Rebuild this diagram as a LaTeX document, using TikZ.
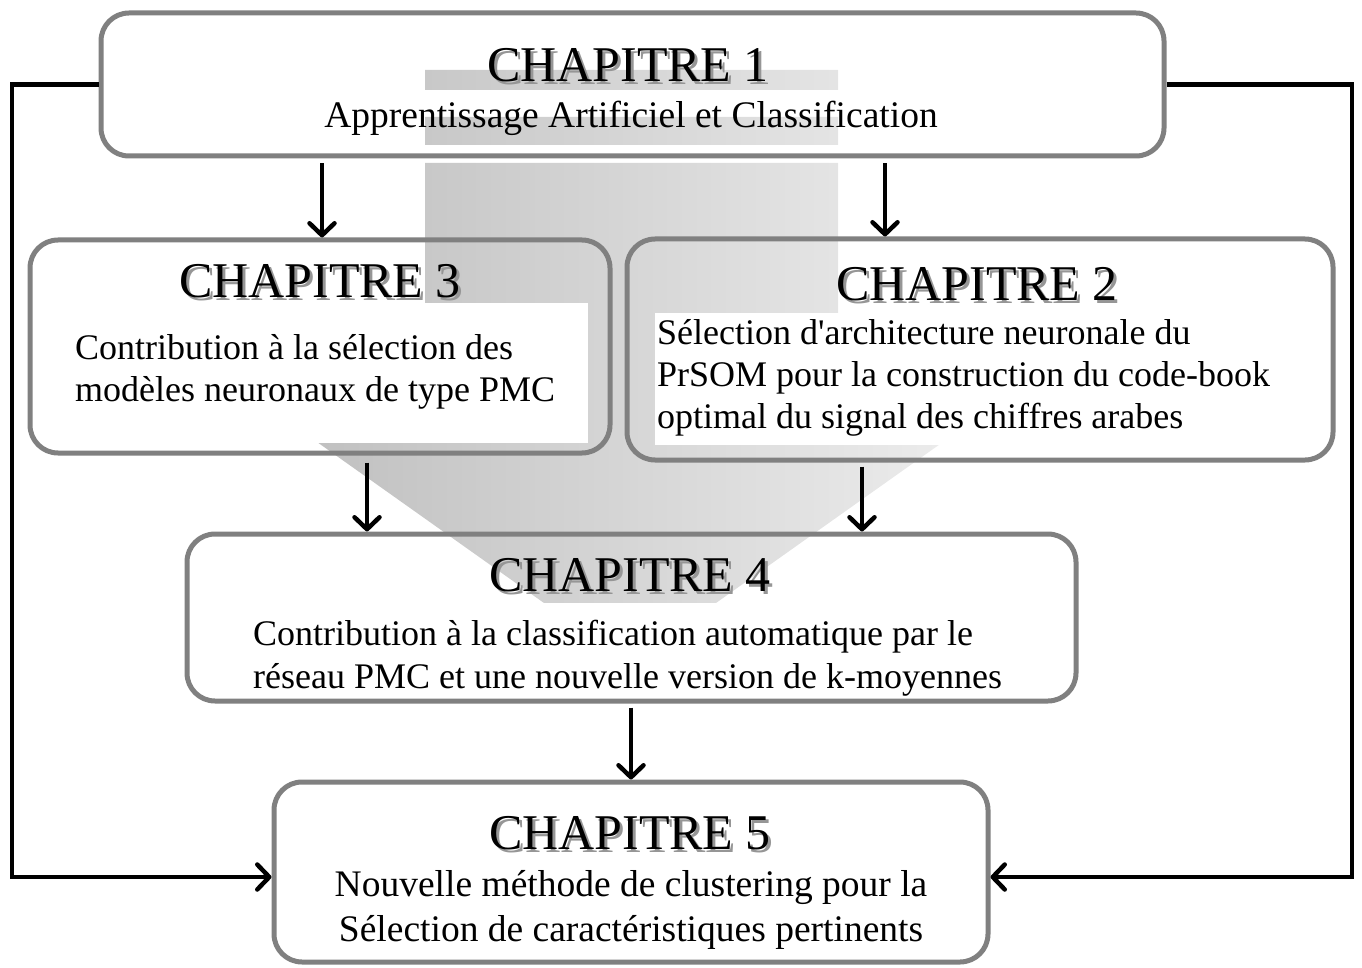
\documentclass[tikz,border=0pt]{standalone}
\usepackage{fontspec}
\setmainfont{Liberation Serif}[Ligatures=TeXOff]
\usetikzlibrary{arrows.meta}

\definecolor{frame}{RGB}{128,128,128}
\definecolor{shadeL}{RGB}{181,181,181}
\definecolor{shadeR}{RGB}{247,247,247}
\definecolor{ttlgray}{RGB}{150,150,150}

% title with a soft grey drop shadow
\newcommand{\chtitle}[1]{\rlap{\kern3pt\raisebox{-3pt}{\textcolor{ttlgray}{#1}}}#1}

\tikzset{
  chbox/.style={rectangle, draw=frame, line width=5pt, rounded corners=28pt, inner sep=0pt},
  backing/.style={rectangle, fill=white, draw=none, inner sep=0pt},
  ttl/.style={anchor=base, inner sep=0pt, font=\fontsize{50}{50}\selectfont},
  txt/.style={anchor=base west, inner sep=0pt, font=\fontsize{36}{42}\selectfont},
  txtc/.style={anchor=base, inner sep=0pt, font=\fontsize{37.5}{42}\selectfont},
  conn/.style={line width=4.5pt, -{Straight Barb[length=12pt,width=25pt,round]}},
}

\begin{document}
\begin{tikzpicture}[x=1pt,y=-1pt]
\useasboundingbox (0,0) rectangle (1362,968);

% striped block arrow running down behind the chapters
\shade[left color=shadeL, right color=shadeR]
  (425,70) rectangle (838,90)
  (425,117) rectangle (838,145)
  (425,163) -- (838,163) -- (838,320) -- (1115,320) -- (630,664)
  -- (145,320) -- (425,320) -- cycle;

% white panels behind the descriptions
\node[backing, minimum width=528, minimum height=140] (bg3) at (324,373) {};
\node[backing, minimum width=625, minimum height=132] (bg2) at (967.5,379) {};
\node[backing, minimum width=780, minimum height=94] (bg4) at (630,650) {};

% chapter frames
\node[chbox, minimum width=1063, minimum height=143] (box1) at (632.5,84.5) {};
\node[chbox, minimum width=580, minimum height=213] (box3) at (320,346.5) {};
\node[chbox, minimum width=706, minimum height=221] (box2) at (980,349.5) {};
\node[chbox, minimum width=889, minimum height=167] (box4) at (631.5,617.5) {};
\node[chbox, minimum width=714, minimum height=180] (box5) at (631,872) {};

% titles
\node[ttl] (t1) at (628,82) {\chtitle{CHAPITRE 1}};
\node[ttl] (t3) at (320,298) {\chtitle{CHAPITRE 3}};
\node[ttl] (t2) at (977,300) {\chtitle{CHAPITRE 2}};
\node[ttl] (t4) at (630,591) {\chtitle{CHAPITRE 4}};
\node[ttl] (t5) at (630,849) {\chtitle{CHAPITRE 5}};

% descriptions
\node[txtc] (d1) at (631,128) {Apprentissage Artificiel et Classification};
\node[txt] (d3a) at (75,359) {Contribution à la sélection des};
\node[txt] (d3b) at (75,401) {modèles neuronaux de type PMC};
\node[txt] (d2a) at (657,344) {Sélection d'architecture neuronale du};
\node[txt] (d2b) at (657,386) {PrSOM pour la construction du code-book};
\node[txt] (d2c) at (657,428) {optimal du signal des chiffres arabes};
\node[txt] (d4a) at (253,645) {Contribution à la classification automatique par le};
\node[txt] (d4b) at (253,688) {réseau PMC et une nouvelle version de k-moyennes};
\node[txtc] (d5a) at (631,896) {Nouvelle méthode de clustering pour la};
\node[txtc] (d5b) at (631,941) {Sélection de caractéristiques pertinents};

% connectors
\coordinate (xa) at (322,0);
\coordinate (xb) at (885,0);
\coordinate (xc) at (367,0);
\coordinate (xd) at (862,0);
\coordinate (xe) at (631,0);
\coordinate (L) at (12,877);
\coordinate (R) at (1352,877);

\draw[conn, shorten <=5pt] (box1.south -| xa) -- (box3.north -| xa);
\draw[conn, shorten <=5pt] (box1.south -| xb) -- (box2.north -| xb);
\draw[conn, shorten <=7pt] (box3.south -| xc) -- (box4.north -| xc);
\draw[conn, shorten <=4pt] (box2.south -| xd) -- (box4.north -| xd);
\draw[conn, shorten <=4pt] (box4.south -| xe) -- (box5.north -| xe);
\draw[conn] (box1.west) -| (L) -- (box5.west |- L);
\draw[conn] (box1.east) -| (R) -- (box5.east |- R);
\end{tikzpicture}
\end{document}
